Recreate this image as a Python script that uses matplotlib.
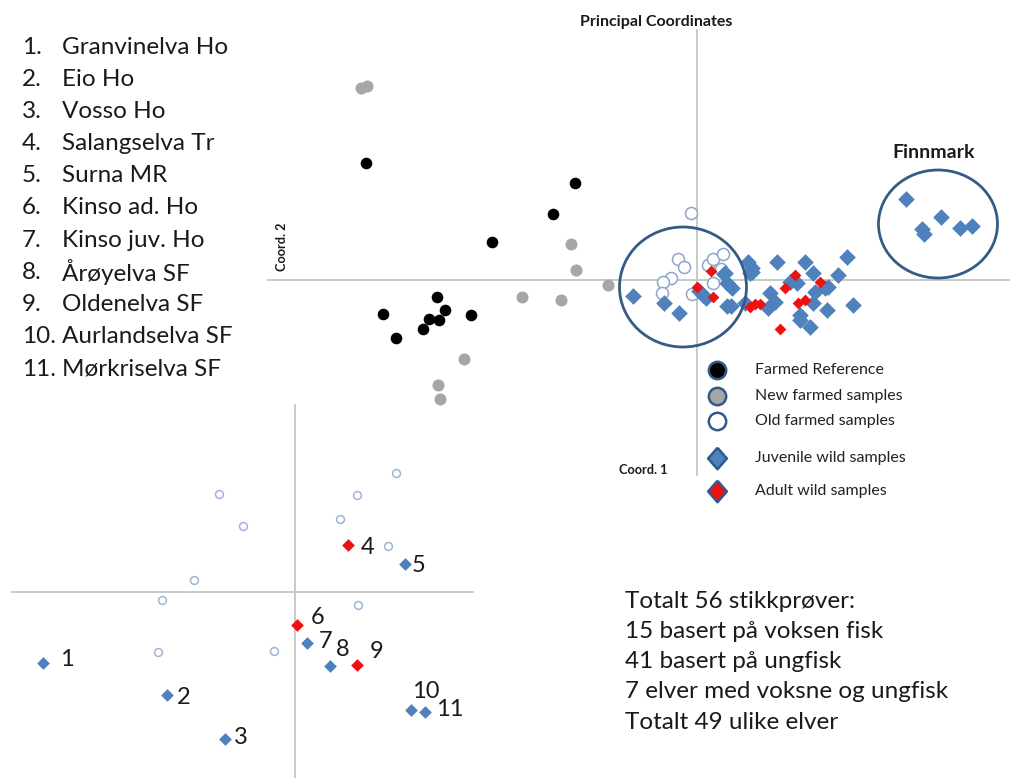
import matplotlib
matplotlib.use("Agg")
import matplotlib.pyplot as plt
from matplotlib.patches import Ellipse
import numpy as np

plt.rcParams['font.family'] = ['Lato', 'DejaVu Sans']

# main PCoA plot (Coord. 1, Coord. 2)
farmed_ref_x = [-3.31, -1.22, -1.44, -2.05, -2.60, -3.14, -2.52, -2.68, -2.58, -2.26, -2.74, -3.01]
farmed_ref_y = [1.17, 0.97, 0.66, 0.38, -0.17, -0.34, -0.30, -0.39, -0.40, -0.35, -0.49, -0.58]

new_farmed_x = [-3.36, -3.30, -1.26, -1.21, -0.89, -1.75, -1.36, -2.33, -2.59, -2.57]
new_farmed_y = [1.92, 1.94, 0.36, 0.10, -0.05, -0.17, -0.20, -0.79, -1.05, -1.19]

old_farmed_x = [-0.06, -0.19, -0.13, -0.26, -0.34, -0.35, -0.05, 0.11, 0.16, 0.26, 0.24, 0.16]
old_farmed_y = [0.67, 0.21, 0.13, 0.02, -0.02, -0.13, -0.14, 0.15, 0.21, 0.26, 0.11, -0.03]

juv_x = [-0.64, -0.33, -0.18, 0.02, 0.06, 0.09, 0.27, 0.30, 0.34,
         0.51, 0.55, 0.28, 0.30, 0.35, 0.53, 0.55, 0.48, 0.73, 0.78, 0.71, 0.80,
         0.93, 1.00, 1.08, 1.16, 1.03, 1.03, 1.13, 1.18, 1.28, 1.16, 1.31, 1.30,
         1.41, 1.50, 1.56,
         2.09, 2.44, 2.25, 2.27, 2.63, 2.75]
juv_y = [-0.16, -0.23, -0.33, -0.11, -0.15, -0.18, 0.06, -0.26, -0.26,
         0.18, 0.08, 0.07, -0.03, -0.08, 0.07, 0.12, -0.23, -0.13, -0.22, -0.28, 0.18,
         -0.02, -0.03, 0.18, 0.07, -0.35, -0.40, -0.47, -0.12, -0.08, -0.23, -0.07, -0.30,
         0.05, 0.23, -0.25,
         0.81, 0.63, 0.51, 0.46, 0.52, 0.54]

adult_x = [0.14, 0.00, 0.16, 0.53, 0.58, 0.63, 0.88, 0.98, 1.01, 1.08, 1.23, 0.83]
adult_y = [0.09, -0.07, -0.17, -0.27, -0.24, -0.24, -0.08, 0.05, -0.23, -0.20, -0.02, -0.49]

# ellipses: centre x, centre y, width, height
ellipse_cx = [-0.14, 2.41]
ellipse_cy = [-0.07, 0.56]
ellipse_w = [1.27, 1.19]
ellipse_h = [1.20, 1.08]

# inset plot with numbered rivers
inset_open_x = [-0.76, -0.52, -1.01, -1.33, -1.37, -0.21, 1.01, 0.62, 0.45, 0.93, 0.63]
inset_open_y = [0.98, 0.66, 0.12, -0.08, -0.60, -0.59, 1.19, 0.97, 0.73, 0.46, -0.13]

river_no = [1, 2, 3, 4, 5, 6, 7, 8, 9, 10, 11]
river_x = [-2.52, -1.28, -0.70, 0.53, 1.10, 0.02, 0.12, 0.35, 0.62, 1.16, 1.30]
river_y = [-0.71, -1.03, -1.47, 0.47, 0.28, -0.33, -0.51, -0.74, -0.73, -1.18, -1.20]
river_adult = [False, False, False, True, False, True, False, False, True, False, False]

river_names = ["Granvinelva Ho", "Eio Ho", "Vosso Ho", "Salangselva Tr", "Surna MR",
               "Kinso ad. Ho", "Kinso juv. Ho", "Årøyelva SF", "Oldenelva SF",
               "Aurlandselva SF", "Mørkriselva SF"]

summary = ["Totalt 56 stikkprøver:", "15 basert på voksen fisk", "41 basert på ungfisk",
           "7 elver med voksne og ungfisk", "Totalt 49 ulike elver"]

legend_labels = ["Farmed Reference", "New farmed samples", "Old farmed samples",
                 "Juvenile wild samples", "Adult wild samples"]

W, H = 1010, 778
fig = plt.figure(figsize=(W / 100, H / 100), dpi=100)

BLUE = '#4f81bd'
RED = '#ee1111'
LINE = '#c0c0c0'
RING = '#355b85'
TXT = '#1a1a1a'

# --- main plot, origin at pixel (697, 280), 100 px per unit
ax = fig.add_axes([0, 0, 1, 1])
ax.set_xlim(-6.97, 3.13)
ax.set_ylim(-4.98, 2.80)
ax.axis('off')
ax.plot([-4.29, 3.13], [0, 0], color=LINE, lw=1.2, zorder=1)
ax.plot([0, 0], [2.50, -1.95], color=LINE, lw=1.2, zorder=1)

for cx, cy, w, h in zip(ellipse_cx, ellipse_cy, ellipse_w, ellipse_h):
    ax.add_patch(Ellipse((cx, cy), w, h, fill=False, ec=RING, lw=2.0, zorder=5))

ax.scatter(new_farmed_x, new_farmed_y, s=75, color='#a6a6a6', lw=0, zorder=3)
ax.scatter(farmed_ref_x, farmed_ref_y, s=70, color='black', lw=0, zorder=3)
ax.scatter(old_farmed_x, old_farmed_y, s=75, facecolor='white', edgecolor='#8ea5cc',
           lw=1.1, zorder=3)
ax.scatter(juv_x, juv_y, s=72, marker='D', color=BLUE, lw=0, zorder=4)
ax.scatter(adult_x, adult_y, s=36, marker='D', color=RED, lw=0, zorder=4)

ax.text(-0.41, 2.58, "Principal Coordinates", fontsize=11.5, fontweight='bold',
        ha='center', va='center', color=TXT)
ax.text(-4.15, 0.33, "Coord. 2", fontsize=9.2, fontweight='bold', rotation=90,
        ha='center', va='center', color=TXT)
ax.text(-0.54, -1.90, "Coord. 1", fontsize=9.2, fontweight='bold',
        ha='center', va='center', color=TXT)
ax.text(2.37, 1.28, "Finnmark", fontsize=14, fontweight='bold',
        ha='center', va='center', color=TXT)

# legend (diamond slightly taller than wide)
diamond = [(0, 1.15), (1, 0), (0, -1.15), (-1, 0), (0, 1.15)]
leg_y = [-0.90, -1.16, -1.41, -1.78, -2.11]
leg_face = ['black', '#a6a6a6', 'white', BLUE, RED]
leg_marker = ['o', 'o', 'o', diamond, diamond]
for yy, fc, mk, lab in zip(leg_y, leg_face, leg_marker, legend_labels):
    ms = 12.5 if isinstance(mk, str) else 15.5
    ax.plot([0.20], [yy], marker=mk, ms=ms, mfc=fc, mec='#2f5a8a', mew=1.8, zorder=5)
    ax.text(0.58, yy, lab, fontsize=11.5, ha='left', va='center', color='#222222')

# --- inset plot, origin at pixel (295, 592)
ax2 = fig.add_axes([0, 0, 1, 1])
ax2.set_xlim(-2.95, 7.15)
ax2.set_ylim(-1.86, 5.92)
ax2.axis('off')
ax2.patch.set_alpha(0)
ax2.plot([-2.83, 1.78], [0, 0], color=LINE, lw=1.2, zorder=1)
ax2.plot([0, 0], [1.87, -1.86], color=LINE, lw=1.2, zorder=1)
ax2.scatter(inset_open_x, inset_open_y, s=32, facecolor='white', edgecolor='#9fb4d8',
            lw=1.1, zorder=3)
for n, x, y, ad in zip(river_no, river_x, river_y, river_adult):
    ax2.scatter([x], [y], s=42, marker='D', color=RED if ad else BLUE, lw=0, zorder=4)

label_dx = [0.24, 0.17, 0.16, 0.20, 0.14, 0.21, 0.19, 0.13, 0.20, 0.15, 0.25]
label_dy = [0.04, -0.03, 0.02, -0.03, -0.01, 0.08, 0.02, 0.16, 0.14, 0.19, 0.02]
for n, x, y, dx, dy in zip(river_no, river_x, river_y, label_dx, label_dy):
    ax2.text(x + dx, y + dy, str(n), fontsize=17, ha='center', va='center', color=TXT)

# --- text blocks
for i, name in enumerate(river_names):
    y = 47 + i * 32.2
    fig.text(22 / W, 1 - y / H, f"{i + 1}.", fontsize=17.5, va='center', ha='left', color=TXT)
    fig.text(62 / W, 1 - y / H, name, fontsize=17.5, va='center', ha='left', color=TXT)

for i, line in enumerate(summary):
    y = 601 + i * 30.3
    fig.text(625 / W, 1 - y / H, line, fontsize=17.5, va='center', ha='left', color=TXT)

fig.savefig('out.png', dpi=100)
